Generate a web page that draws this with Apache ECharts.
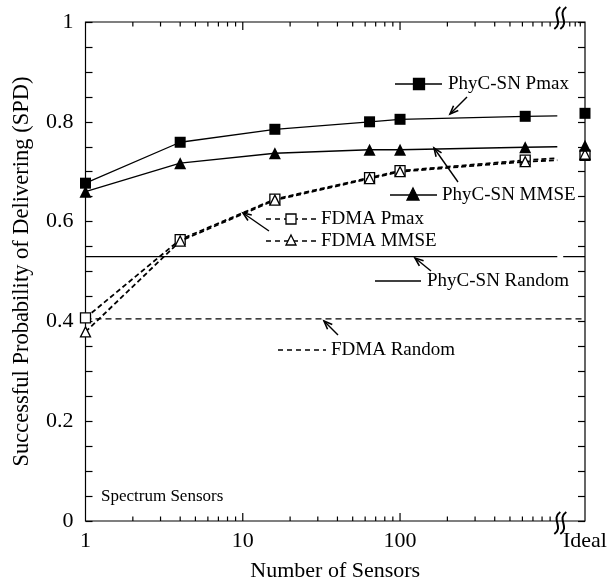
<!DOCTYPE html>
<html><head><meta charset="utf-8">
<script src="https://cdn.jsdelivr.net/npm/echarts@6/dist/echarts.min.js"></script>
<style>html,body{margin:0;padding:0;background:#fff}#c{width:608px;height:583px}</style>
</head><body><div id="c"></div>
<script>
// ---------- data ----------
const sensors   = [1, 4, 16, 64, 100, 625, 1000];   // last point: curve end, no marker
const markedPts = 6;
const idealX    = 1500;
const phycPmax  = [0.677, 0.759, 0.785, 0.800, 0.805, 0.811, 0.812];
const phycMmse  = [0.660, 0.717, 0.737, 0.744, 0.744, 0.749, 0.750];
const fdmaPmax  = [0.407, 0.564, 0.645, 0.688, 0.702, 0.723, 0.727];
const fdmaMmse  = [0.379, 0.561, 0.643, 0.686, 0.700, 0.720, 0.723];
const idealPhycPmax = 0.817;
const idealPhycMmse = 0.752;
const idealFdmaPmax = 0.733;
const idealFdmaMmse = 0.735;
const phycRandom = 0.53;
const fdmaRandom = 0.405;
const xLabelValues = [1, 10, 100];
const xMajorTicks = [10, 100];
const xMinorTicks = [2,3,4,5,6,7,8,9,20,30,40,50,60,70,80,90,200,300,400,500,600,700,800,900];
const xTopExtraTicks = [1200, 1300, 1400];
const idealLabel = 'Ideal';

// ---------- helpers ----------
const FONT = '"Liberation Serif", "Times New Roman", serif';
function curve(vals){
  return sensors.map((x,i)=> i < markedPts ? [x, vals[i]] : {value:[x, vals[i]], symbol:'none'});
}
const solidLine = {color:'#000', width:1.3};
const dashLine  = {color:'#000', width:1.8, type:[5,3]};
const filled = {color:'#000', opacity:1};
const open   = {color:'#fff', borderColor:'#000', borderWidth:1.3, opacity:1};

const chart = echarts.init(document.getElementById('c'), null, {renderer:'canvas'});
const option = {
  animation:false,
  backgroundColor:'#fff',
  grid:{left:85.5, right:23, top:22, bottom:62, show:true, borderColor:'#000', borderWidth:1.2,
        backgroundColor:'transparent', containLabel:false, outerBoundsMode:'none'},
  xAxis:{
    type:'log', logBase:10, min:1, max:idealX,
    axisLine:{show:false}, axisTick:{show:false}, splitLine:{show:false},
    axisLabel:{formatter:v => xLabelValues.includes(Math.round(v)) ? String(Math.round(v)) : '',
      fontSize:22, fontFamily:FONT, color:'#000', margin:9, showMaxLabel:false},
    name:'Number of Sensors', nameLocation:'middle', nameGap:39,
    nameTextStyle:{fontSize:22, fontFamily:FONT, color:'#000'}
  },
  yAxis:[{
    type:'value', min:0, max:1, interval:0.2, position:'left',
    axisLine:{show:false}, splitLine:{show:false},
    axisTick:{show:true, inside:true, length:7, lineStyle:{color:'#000', width:1.2}},
    minorTick:{show:true, splitNumber:4, length:7, lineStyle:{color:'#000', width:1.2}},
    axisLabel:{fontSize:22, fontFamily:FONT, color:'#000', margin:12},
    name:'Successful Probability of Delivering (SPD)', nameLocation:'middle', nameGap:52,
    nameTextStyle:{fontSize:22.5, fontFamily:FONT, color:'#000'}
  },{
    type:'value', min:0, max:1, interval:0.2, position:'right',
    axisLine:{show:false}, splitLine:{show:false}, axisLabel:{show:false},
    axisTick:{show:true, inside:true, length:7, lineStyle:{color:'#000', width:1.2}},
    minorTick:{show:true, splitNumber:4, length:7, lineStyle:{color:'#000', width:1.2}}
  }],
  series:[
    {name:'PhyC-SN Random', type:'line', symbol:'none', clip:false, lineStyle:solidLine, z:2,
     data:[[1,phycRandom],[1000,phycRandom],[1040,'-'],[1090,phycRandom],[idealX,phycRandom]]},
    {name:'FDMA Random', type:'line', symbol:'none', clip:false, lineStyle:{color:'#000', width:1.3, type:[6,4]}, z:2,
     data:[[1,fdmaRandom],[idealX,fdmaRandom]]},
    {name:'FDMA Pmax', type:'line', symbol:'rect', symbolSize:10, clip:false, lineStyle:dashLine, itemStyle:open, z:3,
     data:curve(fdmaPmax)},
    {name:'FDMA MMSE', type:'line', symbol:'triangle', symbolSize:10, clip:false, lineStyle:dashLine, itemStyle:open, z:4,
     data:curve(fdmaMmse)},
    {name:'PhyC-SN Pmax', type:'line', symbol:'rect', symbolSize:11, clip:false, lineStyle:solidLine, itemStyle:filled, z:5,
     data:curve(phycPmax)},
    {name:'PhyC-SN MMSE', type:'line', symbol:'triangle', symbolSize:12, clip:false, lineStyle:solidLine, itemStyle:filled, z:5,
     data:curve(phycMmse)},
    {type:'scatter', symbol:'rect', symbolSize:10, itemStyle:open, clip:false, z:3, data:[[idealX, idealFdmaPmax]]},
    {type:'scatter', symbol:'triangle', symbolSize:10, itemStyle:open, clip:false, z:4, data:[[idealX, idealFdmaMmse]]},
    {type:'scatter', symbol:'rect', symbolSize:11, itemStyle:filled, clip:false, z:5, data:[[idealX, idealPhycPmax]]},
    {type:'scatter', symbol:'triangle', symbolSize:12, itemStyle:filled, clip:false, z:5, data:[[idealX, idealPhycMmse]]}
  ]
};
chart.setOption(option);

// ---------- decorations (ticks, break marks, annotations) ----------
const g = [];
const px = v => chart.convertToPixel({xAxisIndex:0}, v);
const py = v => chart.convertToPixel({yAxisIndex:0}, v);
const yBot = py(0), yTop = py(1);
function ln(x1,y1,x2,y2,extra){ return Object.assign({type:'line', z:50, shape:{x1,y1,x2,y2}, style:{stroke:'#000', lineWidth:1.2}}, extra||{}); }
xMajorTicks.forEach(v=>{ const x=px(v); g.push(ln(x,yBot,x,yBot-8), ln(x,yTop,x,yTop+8)); });
xMinorTicks.forEach(v=>{ const x=px(v); g.push(ln(x,yBot,x,yBot-4.5), ln(x,yTop,x,yTop+4.5)); });
xTopExtraTicks.forEach(v=>{ const x=px(v); g.push(ln(x,yTop,x,yTop+4.5)); });
// axis break marks
const xb = px(1000) + 3;
[[yTop-4],[yBot+2]].forEach(([yc])=>{
  [-3,3].forEach(dx=>{
    g.push({type:'bezierCurve', z:60, shape:{x1:xb+dx+3, y1:yc-11, x2:xb+dx-3, y2:yc+11, cpx1:xb+dx-7, cpy1:yc-4, cpx2:xb+dx+7, cpy2:yc+4},
      style:{stroke:'#000', lineWidth:2, fill:null}});
  });
});
// Ideal label
g.push({type:'text', z:50, x:px(idealX), y:yBot+20, style:{text:idealLabel, font:'22px '+FONT, fill:'#000', align:'center', verticalAlign:'middle'}});

function txt(x,y,s,size){ g.push({type:'text', z:50, x, y, style:{text:s, font:(size||19)+'px '+FONT, fill:'#000', align:'left', verticalAlign:'middle'}}); }
function sq(x,y,s,fill){ g.push({type:'rect', z:51, shape:{x:x-s/2,y:y-s/2,width:s,height:s}, style:{fill:fill, stroke:'#000', lineWidth:1.3}}); }
function tri(x,y,s,fill){ g.push({type:'polygon', z:51, shape:{points:[[x,y-s/2],[x+s/2,y+s/2],[x-s/2,y+s/2]]}, style:{fill:fill, stroke:'#000', lineWidth:1.3}}); }
function arrow(x1,y1,x2,y2){
  g.push(ln(x1,y1,x2,y2,{style:{stroke:'#000', lineWidth:1.4}}));
  const a=Math.atan2(y2-y1,x2-x1), L=9, w=0.38;
  g.push({type:'polyline', z:50, shape:{points:[[x2-L*Math.cos(a-w), y2-L*Math.sin(a-w)],[x2,y2],[x2-L*Math.cos(a+w), y2-L*Math.sin(a+w)]]},
    style:{stroke:'#000', lineWidth:1.6, fill:null}});
}
// PhyC-SN Pmax
g.push(ln(395,84,442,84,{style:{stroke:'#000',lineWidth:1.3}})); sq(419,84,11,'#000'); txt(448,84,'PhyC-SN Pmax');
arrow(467,97,450,114);
// PhyC-SN MMSE
g.push(ln(390,195,437,195,{style:{stroke:'#000',lineWidth:1.3}})); tri(413,194,12,'#000'); txt(442,195,'PhyC-SN MMSE');
arrow(458,182,434,148);
// FDMA Pmax / MMSE
g.push(ln(266,219,319,219,{style:{stroke:'#000',lineWidth:1.3,lineDash:[5,4]}})); sq(291,219,10,'#fff'); txt(321,219,'FDMA Pmax');
g.push(ln(266,241,319,241,{style:{stroke:'#000',lineWidth:1.3,lineDash:[5,4]}})); tri(291,240,10,'#fff'); txt(321,241,'FDMA MMSE');
arrow(269,231,243,213);
// PhyC-SN Random
g.push(ln(375,281,421,281,{style:{stroke:'#000',lineWidth:1.3}})); txt(427,281,'PhyC-SN Random');
arrow(431,271,415,258);
// FDMA Random
g.push(ln(278,350,326,350,{style:{stroke:'#000',lineWidth:1.3,lineDash:[5,4]}})); txt(331,350,'FDMA Random');
arrow(338,335,324,321);
// Spectrum Sensors
txt(101,497,'Spectrum Sensors',17);

chart.setOption({graphic:g});
</script></body></html>
